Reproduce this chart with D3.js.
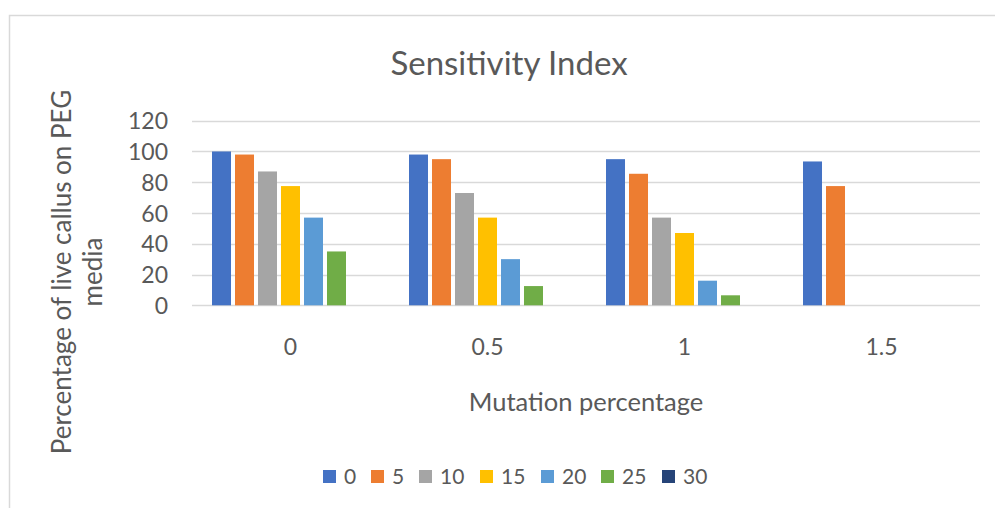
<!DOCTYPE html>
<html>
<head>
<meta charset="utf-8">
<script src="https://cdn.jsdelivr.net/npm/d3@7"></script>
<style>
body { margin:0; background:#fff; }
text { font-family: Lato, "Open Sans", sans-serif; fill:#595959; }
</style>
</head>
<body>
<script>
// data
var categories = ['0', '0.5', '1', '1.5'];
var seriesNames = ['0', '5', '10', '15', '20', '25', '30'];
var s0  = [100, 98, 95, 93.5];
var s5  = [98, 95, 85.5, 77.5];
var s10 = [87, 73, 57, 0];
var s15 = [77.5, 57, 47, 0];
var s20 = [57, 30, 16, 0];
var s25 = [35, 12.5, 6.5, 0];
var s30 = [0, 0, 0, 0];
var yTicks = [0, 20, 40, 60, 80, 100, 120];
var colors = ['#4472C4', '#ED7D31', '#A5A5A5', '#FFC000', '#5B9BD5', '#70AD47', '#264478'];

var allSeries = [s0, s5, s10, s15, s20, s25, s30];

var params = {
  width:995
, height:508
, left:192
, right:980
, top:120.7
, bottom:305.3}

var svg = d3.select('body').append('svg')
  .attr('width', params.width)
  .attr('height', params.height);

// chart frame (only top and left edges show in the crop)
svg.append('path')
  .attr('d', 'M9.5,' + params.height + ' L9.5,15.5 L' + params.width + ',15.5')
  .attr('fill', 'none')
  .attr('stroke', '#d9d9d9')
  .attr('stroke-width', 1.5);

var y = d3.scaleLinear().domain([0, 120]).range([params.bottom, params.top]);
var x0 = d3.scaleBand().domain(categories).range([params.left, params.right]);
var x1 = d3.scaleBand().domain(seriesNames).range([0, x0.bandwidth()])
  .paddingInner(0.174).paddingOuter(0.87);

// gridlines
svg.append('g').selectAll('line').data(yTicks).enter().append('line')
  .attr('x1', params.left).attr('x2', params.right)
  .attr('y1', function(d){ return Math.round(y(d)) + 0.5; })
  .attr('y2', function(d){ return Math.round(y(d)) + 0.5; })
  .attr('stroke', '#d9d9d9').attr('stroke-width', 1.3);

// y axis
var yAxis = svg.append('g')
  .attr('transform', 'translate(' + (params.left - 6) + ',0)')
  .call(d3.axisLeft(y).tickValues(yTicks).tickSize(0).tickPadding(18));
yAxis.select('.domain').remove();
yAxis.selectAll('text').style('font-size', '23px').attr('dy', '0.35em');

// x axis labels
var xAxis = svg.append('g')
  .attr('transform', 'translate(0,' + (params.bottom) + ')')
  .call(d3.axisBottom(x0).tickSize(0).tickPadding(33));
xAxis.select('.domain').remove();
xAxis.selectAll('text').style('font-size', '23px');

// bars
var groups = svg.append('g').selectAll('g').data(categories).enter().append('g')
  .attr('transform', function(d){ return 'translate(' + x0(d) + ',0)'; });

groups.selectAll('rect')
  .data(function(c, ci){ return seriesNames.map(function(s, si){ return {s:s, i:si, v:allSeries[si][ci]}; }); })
  .enter().append('rect')
  .attr('x', function(d){ return x1(d.s); })
  .attr('width', x1.bandwidth())
  .attr('y', function(d){ return y(d.v); })
  .attr('height', function(d){ return y(0) - y(d.v); })
  .attr('fill', function(d){ return colors[d.i]; });

// title
svg.append('text')
  .attr('x', 509).attr('y', 75)
  .attr('text-anchor', 'middle')
  .style('font-size', '33px')
  .text('Sensitivity Index');

// axis titles
svg.append('text')
  .attr('x', 586).attr('y', 411)
  .attr('text-anchor', 'middle')
  .style('font-size', '25.5px')
  .text('Mutation percentage');

var yTitle = svg.append('text')
  .attr('transform', 'translate(71,272) rotate(-90)')
  .attr('text-anchor', 'middle')
  .style('font-size', '26px');
yTitle.append('tspan').attr('x', 0).attr('y', 0).text('Percentage of live callus on PEG');
yTitle.append('tspan').attr('x', 0).attr('y', 31).text('media');

// legend
var legendX = [323, 371, 419, 480, 541, 601, 662];
var legend = svg.append('g').selectAll('g').data(seriesNames).enter().append('g')
  .attr('transform', function(d, i){ return 'translate(' + legendX[i] + ',470)'; });
legend.append('rect')
  .attr('width', 13).attr('height', 13)
  .attr('fill', function(d, i){ return colors[i]; });
legend.append('text')
  .attr('x', 21).attr('y', 7).attr('dy', '0.35em')
  .style('font-size', '21px')
  .text(function(d){ return d; });
</script>
</body>
</html>
